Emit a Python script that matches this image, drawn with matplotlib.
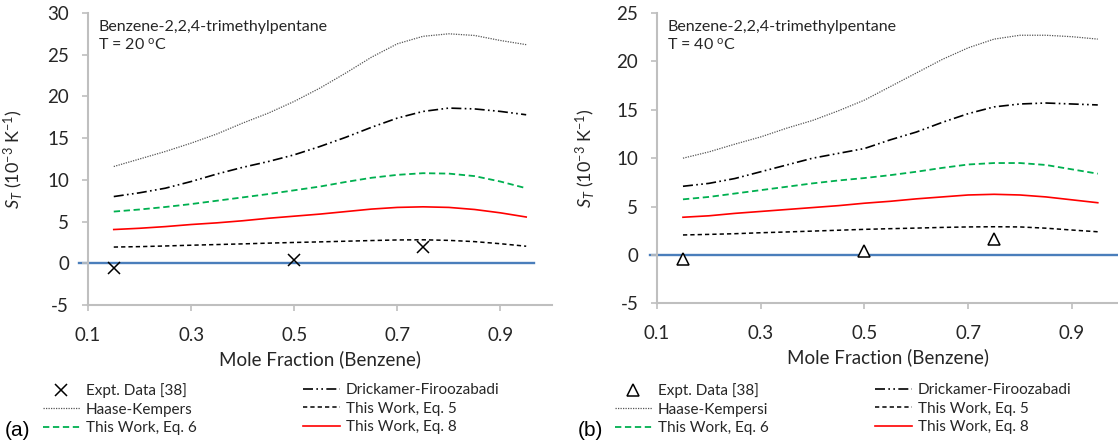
import matplotlib
matplotlib.use("Agg")
import matplotlib.pyplot as plt
from matplotlib.lines import Line2D

plt.rcParams['font.family'] = ['Lato', 'DejaVu Sans']
plt.rcParams['mathtext.fontset'] = 'custom'
plt.rcParams['mathtext.rm'] = 'Lato'
plt.rcParams['mathtext.it'] = 'Lato:italic'
plt.rcParams['axes.unicode_minus'] = False

# Fraccion molar de benceno para las curvas de los modelos
x_mod = [0.15, 0.2, 0.25, 0.3, 0.35, 0.4, 0.45, 0.5, 0.55, 0.6,
         0.65, 0.7, 0.75, 0.8, 0.85, 0.9, 0.95]

# Datos experimentales
x_exp = [0.15, 0.5, 0.75]
exp_20 = [-0.6, 0.4, 1.95]
exp_40 = [-0.45, 0.4, 1.65]

# T = 20 C
hk_20 = [11.6, 12.5, 13.4, 14.4, 15.5, 16.8, 18.0, 19.4, 21.0, 22.8,
         24.7, 26.3, 27.2, 27.5, 27.3, 26.7, 26.2]
df_20 = [8.0, 8.45, 9.0, 9.8, 10.7, 11.5, 12.2, 13.0, 14.0, 15.1,
         16.3, 17.4, 18.2, 18.6, 18.5, 18.2, 17.8]
eq6_20 = [6.2, 6.45, 6.75, 7.1, 7.5, 7.9, 8.3, 8.75, 9.2, 9.75,
          10.25, 10.6, 10.8, 10.75, 10.45, 9.8, 9.0]
eq8_20 = [4.05, 4.2, 4.4, 4.65, 4.85, 5.1, 5.4, 5.65, 5.9, 6.2,
          6.5, 6.7, 6.77, 6.7, 6.45, 6.05, 5.55]
eq5_20 = [1.95, 2.0, 2.08, 2.17, 2.25, 2.33, 2.42, 2.5, 2.57, 2.65,
          2.73, 2.8, 2.82, 2.75, 2.6, 2.35, 2.05]

# T = 40 C
hk_40 = [10.0, 10.65, 11.45, 12.2, 13.1, 13.9, 14.9, 16.0, 17.4, 18.8,
         20.2, 21.4, 22.3, 22.7, 22.7, 22.55, 22.3]
df_40 = [7.1, 7.4, 7.9, 8.6, 9.3, 10.0, 10.5, 11.0, 11.9, 12.7,
         13.7, 14.6, 15.3, 15.6, 15.7, 15.6, 15.5]
eq6_40 = [5.75, 6.0, 6.35, 6.7, 7.05, 7.4, 7.7, 7.95, 8.25, 8.6,
          9.0, 9.35, 9.5, 9.5, 9.3, 8.85, 8.4]
eq8_40 = [3.9, 4.05, 4.3, 4.5, 4.7, 4.9, 5.1, 5.35, 5.55, 5.8,
          6.0, 6.2, 6.27, 6.2, 6.0, 5.7, 5.4]
eq5_40 = [2.07, 2.13, 2.2, 2.3, 2.38, 2.47, 2.56, 2.65, 2.72, 2.78,
          2.85, 2.9, 2.92, 2.9, 2.77, 2.58, 2.4]

x_ticks = [0.1, 0.3, 0.5, 0.7, 0.9]

fig = plt.figure(figsize=(11.18, 4.46), dpi=100)
ax1 = fig.add_axes([0.0787, 0.316, 0.415, 0.655])
ax2 = fig.add_axes([0.5877, 0.3197, 0.4123, 0.6512])

gris = '#bfbfbf'
texto = '#262626'

estilos = {
    'hk': dict(color='#555555', lw=0.9, dashes=(1, 1)),
    'df': dict(color='black', lw=1.2, dashes=(6, 2, 1, 2, 1, 2)),
    'eq6': dict(color='#00b050', lw=1.3, dashes=(3.5, 2)),
    'eq8': dict(color='#ff0000', lw=1.2),
    'eq5': dict(color='black', lw=1.1, dashes=(2.8, 2)),
}


def panel(ax, curvas, exp, marcador, ylim, yticks, xlim, titulo, cero_x):
    ax.plot(cero_x, [0, 0], color='#4a7ebb', lw=1.7, clip_on=False, zorder=1)
    for clave, y in curvas.items():
        ax.plot(x_mod, y, **estilos[clave], zorder=2)
    if marcador == 'x':
        ax.plot(x_exp, exp, 'x', color='black', ms=8, mew=1.1, zorder=3)
    else:
        ax.plot(x_exp, exp, '^', mfc='white', mec='black', ms=9, mew=1.1, zorder=3)

    ax.set_xlim(*xlim)
    ax.set_ylim(*ylim)
    ax.set_xticks(x_ticks)
    ax.set_xticklabels([f"{t:.1f}" for t in x_ticks])
    ax.set_yticks(yticks)
    for lado in ['top', 'right']:
        ax.spines[lado].set_visible(False)
    for lado in ['left', 'bottom']:
        ax.spines[lado].set_color(gris)
        ax.spines[lado].set_linewidth(1.5)
    ax.tick_params(colors=gris, labelcolor=texto, labelsize=13.5, length=4.5, width=1.2)
    ax.tick_params(axis='x', pad=11)
    ax.tick_params(axis='y', pad=9)

    ax.set_xlabel("Mole Fraction (Benzene)", fontsize=13.5, color=texto)
    ax.set_ylabel(r"$S_T$ (10$^{-3}$ K$^{-1}$)", fontsize=13, color=texto)
    ax.xaxis.set_label_coords(0.5, -0.155)
    ax.text(0.022, 0.975, titulo, transform=ax.transAxes, ha='left', va='top',
            fontsize=11.5, color=texto, linespacing=1.2)


panel(ax1, {'hk': hk_20, 'df': df_20, 'eq6': eq6_20, 'eq8': eq8_20, 'eq5': eq5_20},
      exp_20, 'x', (-5, 30), range(-5, 31, 5), (0.1, 1.0),
      "Benzene-2,2,4-trimethylpentane\nT = 20 $^{\\mathrm{o}}$C", [0.083, 0.965])
panel(ax2, {'hk': hk_40, 'df': df_40, 'eq6': eq6_40, 'eq8': eq8_40, 'eq5': eq5_40},
      exp_40, '^', (-5, 25), range(-5, 26, 5), (0.1, 0.989),
      "Benzene-2,2,4-trimethylpentane\nT = 40 $^{\\mathrm{o}}$C", [0.086, 1.0])
ax1.yaxis.set_label_coords(-0.135, 0.5)
ax2.yaxis.set_label_coords(-0.13, 0.5)


# Leyendas (dos columnas por panel)
def leyenda(ax, x0, x1, nombres, marcador):
    exp_h = Line2D([], [], ls='none', marker=marcador, color='black',
                   mfc='white' if marcador == '^' else 'black', ms=8, mew=1.1)
    col1 = [exp_h, Line2D([], [], **estilos['hk']), Line2D([], [], **estilos['eq6'])]
    col2 = [Line2D([], [], **estilos['df']), Line2D([], [], **estilos['eq5']),
            Line2D([], [], **estilos['eq8'])]
    opts = dict(loc='upper left', bbox_transform=fig.transFigure, frameon=False,
                fontsize=11, handlelength=2.42, handletextpad=0.4,
                labelspacing=0.3, borderpad=0, borderaxespad=0, labelcolor=texto)
    l1 = ax.legend(col1, nombres[:3], bbox_to_anchor=(x0 / 1118, 1 - 383 / 446), **opts)
    ax.add_artist(l1)
    ax.legend(col2, nombres[3:], bbox_to_anchor=(x1 / 1118, 1 - 383 / 446), **opts)


leyenda(ax1, 43, 303, ["Expt. Data [38]", "Haase-Kempers", "This Work, Eq. 6",
                       "Drickamer-Firoozabadi", "This Work, Eq. 5", "This Work, Eq. 8"], 'x')
leyenda(ax2, 615, 875, ["Expt. Data [38]", "Haase-Kempersi", "This Work, Eq. 6",
                        "Drickamer-Firoozabadi", "This Work, Eq. 5", "This Work, Eq. 8"], '^')

fig.text(5 / 1118, 1 - 430 / 446, "(a)", fontsize=15, family='Liberation Sans',
         va='center', ha='left')
fig.text(578 / 1118, 1 - 430 / 446, "(b)", fontsize=15, family='Liberation Sans',
         va='center', ha='left')

fig.savefig("out.png", dpi=100)
